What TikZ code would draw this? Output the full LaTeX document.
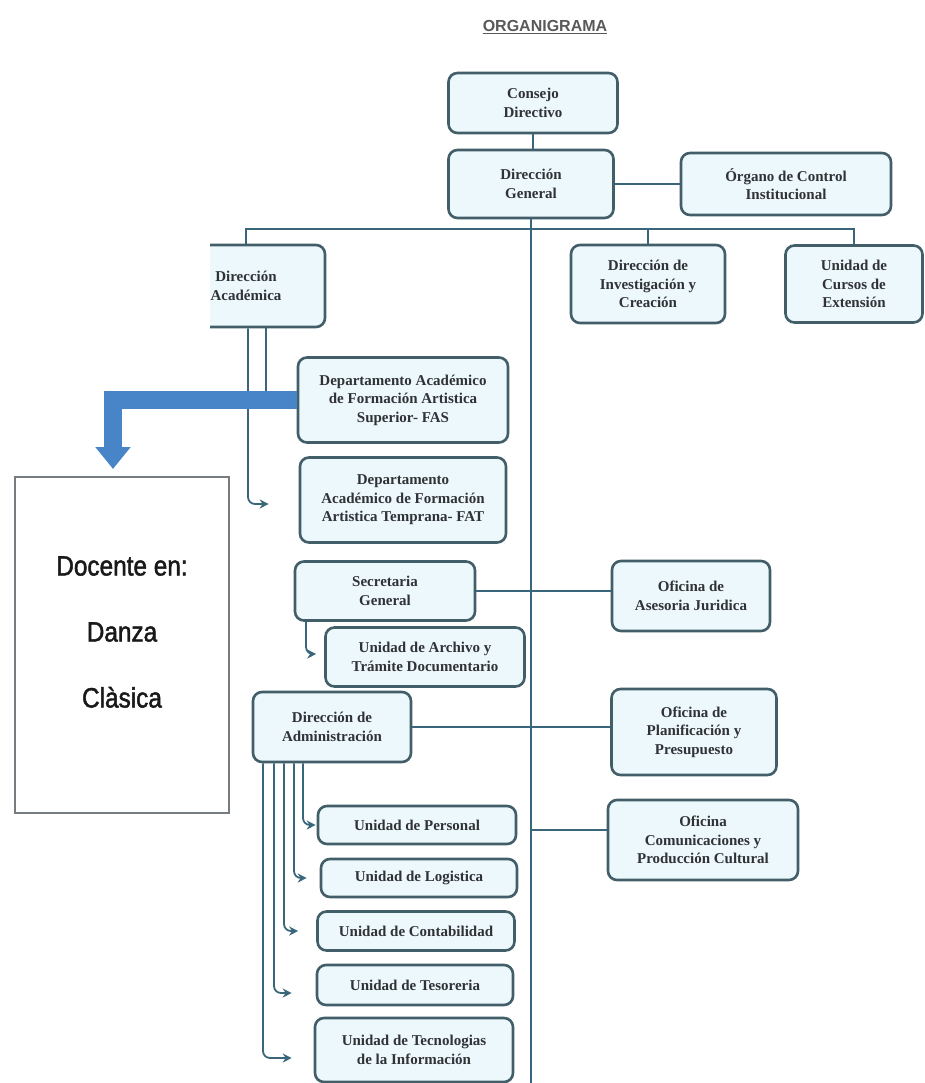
\documentclass[tikz,border=0pt]{standalone}
\usepackage{fontspec}
\usepackage{xcolor}
\setmainfont{Liberation Serif}
\newfontfamily\titlefont{Liberation Sans}
\newfontfamily\narrowfont[FakeStretch=0.87,FakeBold=1.6]{Liberation Sans}
\definecolor{orgline}{RGB}{58,102,124}
\definecolor{orgbox}{RGB}{66,94,104}
\definecolor{orgfill}{RGB}{236,248,251}
\definecolor{orgtext}{RGB}{48,50,53}
\definecolor{orgblue}{RGB}{72,132,200}
\definecolor{orggray}{RGB}{118,124,128}
\usetikzlibrary{arrows.meta,positioning,calc}

\begin{document}
\begin{tikzpicture}[x=1pt, y=-1pt, every node/.style={font=\bfseries\fontsize{15}{18.5}\selectfont}]
    % Define styles
    \tikzstyle{unit} = [rectangle, draw=orgbox, fill=orgfill, line width=2.6pt, rounded corners=9pt,
                        align=center, text=orgtext, inner sep=2pt]
    \tikzstyle{link} = [draw=orgline, line width=2pt]
    \tikzstyle{elbow} = [draw=orgline, line width=1.8pt, rounded corners=7pt, -{Stealth[length=9pt,width=9pt]}]
    \tikzstyle{bigarrow} = [draw=orgblue, line width=18pt, -{Triangle[width=34pt,length=22pt]}]

    \useasboundingbox (0,0) rectangle (924,1083);

    % Title
    \node[font=\titlefont\bfseries\fontsize{16}{18}\selectfont, text=black!65] (title) at (545,27) {\underline{ORGANIGRAMA}};

    % Top level
    \node[unit, minimum width=169pt, minimum height=60pt] (consejo) at (533,103) {Consejo\\Directivo};
    \node[unit, minimum width=165pt, minimum height=68pt] (general) at (531,184) {Dirección\\General};
    \node[unit, minimum width=210pt, minimum height=62pt] (control) at (786,184) {Órgano de Control\\Institucional};

    % Second level (left box is cut at the page edge)
    \begin{scope}
        \clip (210,230) rectangle (340,340);
        \node[unit, minimum width=158pt, minimum height=82pt] (academica) at (246,286) {Dirección\\Académica};
    \end{scope}
    \node[unit, minimum width=154pt, minimum height=78pt] (investigacion) at (648,284) {Dirección de\\Investigación y\\Creación};
    \node[unit, minimum width=137pt, minimum height=77pt] (cursos) at (854,284) {Unidad de\\Cursos de\\Extensión};

    % Academic departments
    \node[unit, minimum width=210pt, minimum height=85pt] (fas) at (403,400) {Departamento Académico\\de Formación Artistica\\Superior- FAS};
    \node[unit, minimum width=206pt, minimum height=85pt] (fat) at (403,500) {Departamento\\Académico de Formación\\Artistica Temprana- FAT};

    % Docente box
    \node[rectangle, draw=orggray, fill=white, line width=2pt, minimum width=214pt, minimum height=336pt] (docente) at (122,645) {};
    \node[font=\narrowfont\fontsize{28}{66}\selectfont, text=black!90, align=center] (docentetxt) at ([yshift=13pt]docente.center) {Docente en:\\Danza\\Clàsica};

    % Secretaria and administration
    \node[unit, minimum width=180pt, minimum height=59pt] (secretaria) at (385,591) {Secretaria\\General};
    \node[unit, minimum width=158pt, minimum height=70pt] (asesoria) at (691,596) {Oficina de\\Asesoria Juridica};
    \node[unit, minimum width=199pt, minimum height=59pt] (archivo) at (425,657) {Unidad de Archivo y\\Trámite Documentario};
    \node[unit, minimum width=158pt, minimum height=70pt] (admin) at (332,727) {Dirección de\\Administración};
    \node[unit, minimum width=165pt, minimum height=86pt] (planificacion) at (694,732) {Oficina de\\Planificación y\\Presupuesto};
    \node[unit, minimum width=190pt, minimum height=80pt] (comunicaciones) at (703,840) {Oficina\\Comunicaciones y\\Producción Cultural};

    % Administration units
    \node[unit, minimum width=198pt, minimum height=38pt] (personal) at (417,825) {Unidad de Personal};
    \node[unit, minimum width=196pt, minimum height=38pt] (logistica) at (419,878) {Unidad de Logistica};
    \node[unit, minimum width=197pt, minimum height=39pt] (contabilidad) at (416,931) {Unidad de Contabilidad};
    \node[unit, minimum width=196pt, minimum height=40pt] (tesoreria) at (415,985) {Unidad de Tesoreria};
    \node[unit, minimum width=198pt, minimum height=64pt] (tecnologias) at (414,1050) {Unidad de Tecnologias\\de la Información};

    % Main lines
    \coordinate (bus) at (531,229);
    \draw[link] (consejo.south) -- (consejo.south |- general.north);
    \draw[link] (general.east) -- (general.east -| control.west);
    \draw[link] (general.south) -- (general.south |- 0,1083);
    \draw[link] (academica.north) |- (bus) -| (investigacion.north);
    \draw[link] (bus) -| (cursos.north);

    % Side offices
    \draw[link] (secretaria.east) -- (secretaria.east -| asesoria.west);
    \draw[link] (admin.east) -- (admin.east -| planificacion.west);
    \draw[link] ([yshift=10pt]comunicaciones.west) -- ([yshift=10pt]comunicaciones.west -| general.south);

    % Academic branches
    \draw[link] ([xshift=20pt]academica.south) |- (fas.west);
    \draw[elbow] ([xshift=2pt]academica.south) |- ([xshift=-30pt,yshift=-4pt]fat.west);
    \draw[bigarrow] (fas.west) -| ([xshift=-9pt,yshift=7pt]docente.north);

    % Secretaria branch
    \draw[elbow] ([xshift=-79pt]secretaria.south) |- ([xshift=-8pt,yshift=3pt]archivo.west);

    % Administration branches
    \draw[elbow] ([xshift=-29pt]admin.south) |- ([xshift=-1pt]personal.west);
    \draw[elbow] ([xshift=-38pt]admin.south) |- ([xshift=-13pt]logistica.west);
    \draw[elbow] ([xshift=-48pt]admin.south) |- ([xshift=-18pt]contabilidad.west);
    \draw[elbow] ([xshift=-58pt]admin.south) |- ([xshift=-24pt,yshift=-8pt]tesoreria.west);
    \draw[elbow] ([xshift=-69pt]admin.south) |- ([xshift=-22pt,yshift=-8pt]tecnologias.west);
\end{tikzpicture}
\end{document}
